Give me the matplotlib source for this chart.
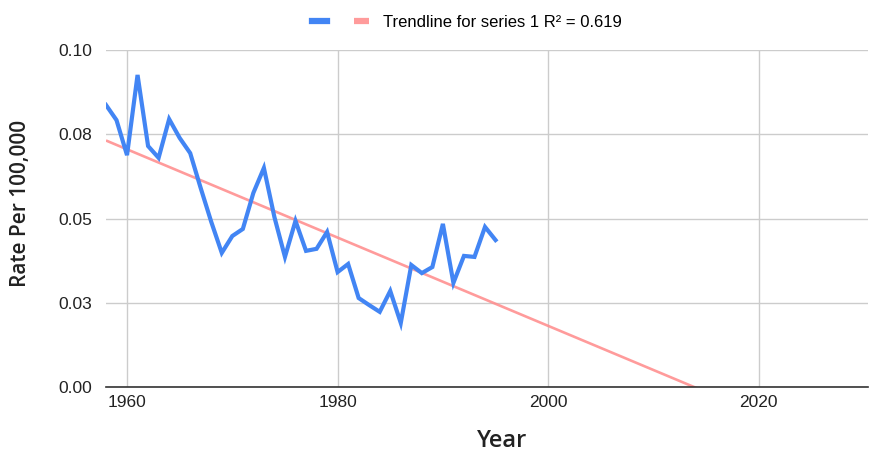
import numpy as np
import matplotlib
matplotlib.use("Agg")
import matplotlib.pyplot as plt

# data
years = list(range(1958, 1996))
rate = [0.0837, 0.0792, 0.0688, 0.0926, 0.0715, 0.0680, 0.0795, 0.0739,
        0.0694, 0.0590, 0.0490, 0.0398, 0.0448, 0.0469, 0.0576, 0.0650,
        0.0504, 0.0386, 0.0493, 0.0404, 0.0410, 0.0460, 0.0341, 0.0365,
        0.0264, 0.0243, 0.0223, 0.0285, 0.0190, 0.0362, 0.0338, 0.0356,
        0.0484, 0.0309, 0.0389, 0.0386, 0.0475, 0.0436]
y_ticks = [0.0, 0.025, 0.05, 0.075, 0.1]
y_tick_labels = ["0.00", "0.03", "0.05", "0.08", "0.10"]
x_ticks = [1960, 1980, 2000, 2020]
trend_label = "Trendline for series 1 R² = 0.619"

plt.rcParams["font.family"] = ["Liberation Sans", "DejaVu Sans"]

fig = plt.figure(figsize=(8.7, 4.53), dpi=100)
ax = fig.add_axes([0.1218, 0.1457, 0.8762, 0.7439])

# linear trendline over the whole x range
slope, intercept = np.polyfit(years, rate, 1)
tx = np.array([1958, 2031])
ax.plot(tx, slope * tx + intercept, color="#ff8a8a", lw=1.9, alpha=0.85,
        solid_capstyle="butt", label=trend_label, zorder=2)
ax.plot(years, rate, color="#4285f4", lw=3.0, solid_joinstyle="miter",
        label=" ", zorder=3)

ax.set_xlim(1958, 2030.4)
ax.set_ylim(0, 0.1)
ax.set_yticks(y_ticks)
ax.set_yticklabels(y_tick_labels)
ax.set_xticks(x_ticks)

ax.grid(True, color="#cccccc", lw=1)
ax.set_axisbelow(True)
for s in ["top", "right", "left"]:
    ax.spines[s].set_visible(False)
ax.spines["bottom"].set_color("#333333")
ax.spines["bottom"].set_linewidth(1.2)
ax.spines["bottom"].set_zorder(4)
ax.tick_params(axis="y", length=0, pad=10, labelsize=12.5, labelcolor="#222222")
ax.tick_params(axis="x", length=0, pad=6, labelsize=12.5, labelcolor="#222222")

# axis titles placed like the reference (centred on the chart area)
fig.text(502 / 870, 1 - 441 / 453, "Year", fontsize=17, fontweight="semibold",
         family="Open Sans", ha="center", va="center", color="#222222")
fig.text(21 / 870, 1 - 203 / 453, "Rate Per 100,000", fontsize=15,
         fontweight="semibold", family="Open Sans", rotation=90,
         ha="center", va="center", color="#222222")

handles, labels = ax.get_legend_handles_labels()
leg = fig.legend(handles[::-1], labels[::-1], loc="upper center",
                 bbox_to_anchor=(0.537, 1.0), ncol=2, frameon=False,
                 fontsize=12, handlelength=0.9, columnspacing=0.5,
                 handletextpad=0.85)
for h in leg.legend_handles:
    h.set_linewidth(4.5)

fig.savefig("out.png", dpi=100)
